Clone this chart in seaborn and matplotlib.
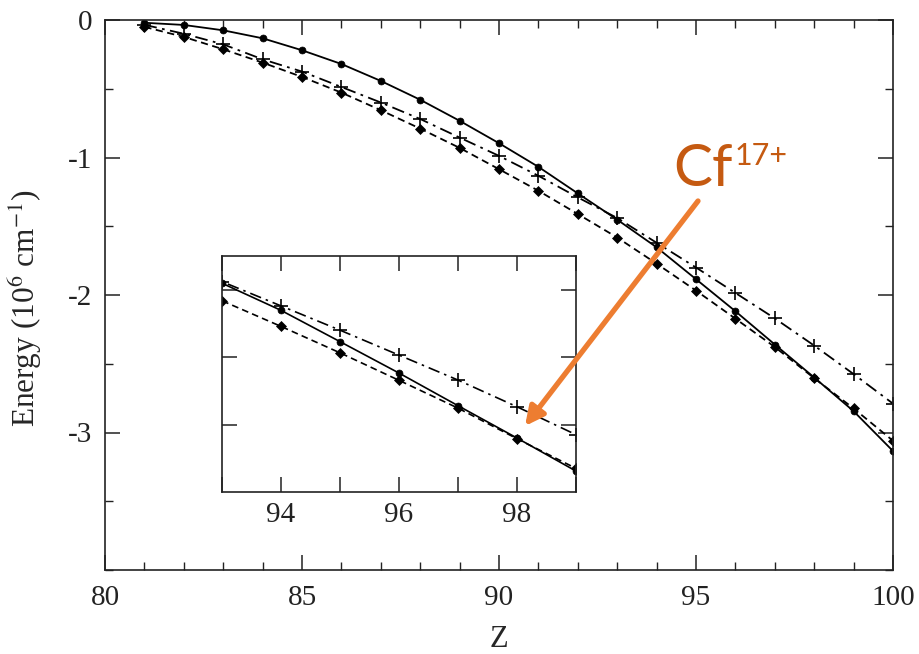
import numpy as np
import pandas as pd
import matplotlib
matplotlib.use("Agg")
import matplotlib.pyplot as plt
import seaborn as sns
from matplotlib.ticker import MultipleLocator

# ---- data ----
Z = list(range(81, 101))
solid_dots = [-0.02, -0.036, -0.075, -0.133, -0.22, -0.32, -0.443, -0.58, -0.733, -0.896,
              -1.068, -1.261, -1.452, -1.653, -1.885, -2.118, -2.36, -2.60, -2.845, -3.135]
dashed_diamonds = [-0.05, -0.123, -0.213, -0.31, -0.414, -0.528, -0.656, -0.79, -0.93, -1.085,
                   -1.242, -1.411, -1.582, -1.772, -1.968, -2.172, -2.378, -2.605, -2.825, -3.06]
dashdot_plus = [-0.035, -0.10, -0.177, -0.286, -0.375, -0.487, -0.60, -0.72, -0.855, -0.988,
                -1.133, -1.29, -1.44, -1.62, -1.80, -1.985, -2.17, -2.368, -2.575, -2.79]
main_xticks = [80, 85, 90, 95, 100]
main_yticks = [0, -1, -2, -3]
inset_xticks = [94, 96, 98]
annotation_main = "Cf"
annotation_sup = "17+"

df = pd.DataFrame({"Z": Z, "solid": solid_dots, "dashed": dashed_diamonds, "dashdot": dashdot_plus})

sns.set_theme(style="ticks")
plt.rcParams["font.family"] = ["Liberation Serif", "DejaVu Serif"]
plt.rcParams["mathtext.fontset"] = "stix"

fig = plt.figure(figsize=(9.19, 6.54), dpi=100)
ax = fig.add_axes([105/919, 1-570/654, (893-105)/919, (570-20)/654])
axi = fig.add_axes([222/919, 1-492/654, (576-222)/919, (492-256)/654])

series = [
    ("solid", "-", "o", 5, None),
    ("dashed", (0, (4, 2.5)), "D", 5.5, None),
    ("dashdot", (0, (7, 3, 1.5, 3)), "+", 10, None),
]

def draw(a, lw):
    for col, ls, mk, ms, _ in series:
        sns.lineplot(data=df, x="Z", y=col, ax=a, color="black", linestyle=ls,
                     marker=mk, markersize=ms, markeredgecolor="black",
                     markeredgewidth=1.2 if mk == "+" else 0.5, linewidth=lw, legend=False)

draw(ax, 1.3)
draw(axi, 1.2)

for a in (ax, axi):
    for s in a.spines.values():
        s.set_linewidth(1.2)
        s.set_color("#222222")

# main axes
ax.set_xlim(80, 100)
ax.set_ylim(-4, 0)
ax.set_xticks(main_xticks)
ax.set_yticks(main_yticks)
ax.set_yticklabels([str(v) for v in main_yticks])
ax.xaxis.set_minor_locator(MultipleLocator(1))
ax.yaxis.set_minor_locator(MultipleLocator(0.5))
ax.tick_params(which="both", direction="in", top=True, right=True, labelsize=21, colors="#222222")
ax.tick_params(which="major", length=11, width=1.1)
ax.tick_params(which="minor", length=6, width=1.0)
ax.tick_params(axis="x", which="major", pad=11)
ax.tick_params(axis="y", which="major", pad=9)
ax.set_xlabel("Z", fontsize=22, labelpad=10)
ax.set_ylabel("Energy (10$^{6}$ cm$^{-1}$)", fontsize=22.5)
ax.yaxis.set_label_coords(-0.077, 0.476)

# inset
axi.set_xlim(93, 99)
axi.set_ylim(-3.0, -1.25)
axi.set_xticks(inset_xticks)
axi.xaxis.set_minor_locator(MultipleLocator(1))
axi.set_yticks([-1.5, -2.0, -2.5])
axi.set_yticklabels([])
axi.set_xlabel("")
axi.set_ylabel("")
axi.tick_params(which="both", direction="in", top=True, right=True, labelsize=21, colors="#222222")
axi.tick_params(which="major", length=11, width=1.1, pad=7)
axi.tick_params(which="minor", length=11, width=1.1)

# annotation
fig.text(673/919, 1-186/654, annotation_main, fontsize=42, color="#C55A11", family="Lato")
fig.text(735/919, 1-165/654, annotation_sup, fontsize=22, color="#C55A11", family="Lato")
axi.annotate("", xy=(525/919, 1-426/654), xycoords="figure fraction",
             xytext=(698/919, 1-201/654), textcoords="figure fraction",
             arrowprops=dict(arrowstyle="-|>", color="#ED7D31", lw=3.8, mutation_scale=28,
                             shrinkA=0, shrinkB=0),
             annotation_clip=False)

fig.savefig("out.png", dpi=100)
